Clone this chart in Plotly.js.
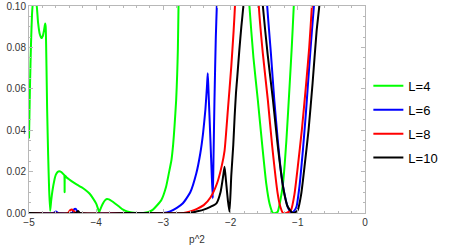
<!DOCTYPE html>
<html>
<head>
<meta charset="utf-8">
<script src="https://cdn.plot.ly/plotly-3.0.1.min.js"></script>
<style>html,body{margin:0;padding:0;background:#fff;}#chart{width:458px;height:247px;}</style>
</head>
<body>
<div id="chart"></div>
<script>
const seriesNames = ["L=4", "L=6", "L=8", "L=10"];
const seriesColors = ["#00ff00", "#0000ff", "#ff0000", "#000000"];

const xL4 = [-5.00,-4.985,-4.97,-4.955,-4.945,-4.915,-4.885,-4.865,-4.84,-4.815,-4.795,-4.775,-4.76,-4.752,-4.74,-4.73,-4.715,-4.70,-4.685,-4.67,-4.65,-4.625,-4.60,-4.575,-4.55,-4.52,-4.49,-4.475,-4.47,-4.464,-4.44,-4.40,-4.35,-4.28,-4.22,-4.16,-4.10,-4.05,-4.00,-3.97,-3.955,-3.93,-3.90,-3.87,-3.84,-3.81,-3.77,-3.72,-3.66,-3.60,-3.54,-3.47,-3.40,-3.30,-3.22,-3.16,-3.10,-3.03,-2.96,-2.92,-2.88,-2.855,-2.835,-2.81,-2.795,-2.785,-2.775,-2.765,-2.2,-1.74,-1.72,-1.66,-1.595,-1.53,-1.47,-1.42,-1.37,-1.33,-1.30,-1.26,-1.22,-1.17,-1.12,-1.09,-1.06,-1.05];
const yL4 = [0.036,0.062,0.082,0.096,0.1005,0.104,0.1,0.092,0.0865,0.0845,0.0855,0.0885,0.0915,0.090,0.071,0.05,0.028,0.011,0.001,0.006,0.011,0.0155,0.0185,0.0198,0.0202,0.0198,0.0188,0.0183,0.0100,0.0181,0.0172,0.0162,0.0150,0.0136,0.0125,0.0111,0.0094,0.0072,0.0045,0.0018,0.0004,0.0025,0.0046,0.0061,0.0068,0.0066,0.0058,0.0046,0.0031,0.0016,0.0007,0.0002,0.0,0.0,0.0005,0.0015,0.0035,0.0063,0.0127,0.019,0.0256,0.033,0.0417,0.0546,0.067,0.0787,0.1,0.115,null,0.115,0.1,0.075,0.0546,0.033,0.0143,0.0045,0.0,0.0,0.0005,0.006,0.0143,0.035,0.0627,0.08,0.1,0.108];

const xL6 = [-5.00,-4.64,-4.60,-4.56,-4.36,-4.33,-4.30,-4.27,-3.6,-3.0,-2.9,-2.8,-2.71,-2.6,-2.51,-2.45,-2.41,-2.375,-2.35,-2.34,-2.33,-2.30,-2.28,-2.265,-2.255,-2.24,-2.22,-2.205,-2.195,-1.8,-1.465,-1.455,-1.40,-1.35,-1.30,-1.25,-1.20,-1.15,-1.10,-1.06,-1.02,-0.975,-0.925,-0.88,-0.83,-0.79,-0.76,-0.75];
const yL6 = [0.0,0.0,0.0007,0.0,0.0,0.0018,0.0019,0.0,0.0,0.0,0.0008,0.0025,0.0047,0.010,0.0192,0.029,0.0385,0.050,0.062,0.0675,0.060,0.035,0.018,0.0071,0.025,0.0546,0.085,0.1,0.112,null,0.112,0.1,0.077,0.0546,0.036,0.02,0.0095,0.003,0.0,0.0008,0.003,0.013,0.030,0.048,0.0707,0.088,0.1,0.106];

const xL8 = [-5.00,-4.42,-4.39,-4.36,-4.33,-4.30,-3.5,-2.7,-2.6,-2.5,-2.4,-2.3,-2.2,-2.13,-2.09,-2.04,-1.99,-1.955,-1.935,-1.925,-1.75,-1.59,-1.58,-1.52,-1.446,-1.38,-1.30,-1.26,-1.22,-1.16,-1.10,-1.05,-1.0,-0.94,-0.875,-0.83,-0.79,-0.78];
const yL8 = [0.0,0.0,0.0013,0.0017,0.0008,0.0,0.0,0.0,0.0008,0.002,0.0038,0.0075,0.0145,0.023,0.030,0.050,0.0707,0.088,0.1,0.11,null,0.11,0.1,0.077,0.0546,0.032,0.0095,0.003,0.0,0.0002,0.0015,0.009,0.0224,0.040,0.0627,0.08,0.1,0.106];

const xL10 = [-5.00,-4.30,-4.27,-4.24,-3.5,-2.6,-2.5,-2.41,-2.3,-2.21,-2.15,-2.11,-2.09,-2.07,-2.04,-2.016,-1.99,-1.96,-1.94,-1.92,-1.90,-1.87,-1.84,-1.81,-1.80,-1.65,-1.53,-1.52,-1.45,-1.37,-1.30,-1.22,-1.15,-1.075,-1.04,-1.0,-0.95,-0.90,-0.84,-0.78,-0.72,-0.68,-0.67];
const yL10 = [0.0,0.0,0.001,0.0,0.0,0.0,0.0008,0.0015,0.003,0.0047,0.010,0.018,0.0224,0.016,0.006,0.0006,0.018,0.033,0.0465,0.058,0.066,0.0787,0.09,0.1,0.106,null,0.107,0.1,0.077,0.0546,0.033,0.0127,0.003,0.0,0.0003,0.0015,0.009,0.0224,0.040,0.0627,0.088,0.1,0.106];

const xTickVals = [-5, -4, -3, -2, -1, 0];
const yTickVals = [0.00, 0.02, 0.04, 0.06, 0.08, 0.10];

const xs = [xL4, xL6, xL8, xL10];
const ys = [yL4, yL6, yL8, yL10];

const traces = seriesNames.map((n, i) => ({
  type: 'scatter', mode: 'lines', name: n,
  x: xs[i], y: ys[i], connectgaps: false,
  legendgroup: n,
  line: {color: seriesColors[i], width: 2, shape: 'spline', smoothing: 0.5}
}));

const axisCommon = {
  showline: true, linecolor: '#b8b8b8', linewidth: 1, mirror: 'ticks',
  ticks: 'inside', ticklen: 4, tickcolor: '#b8b8b8', tickwidth: 1,
  showgrid: false, zeroline: false,
  tickfont: {family: 'Liberation Sans, Arial, sans-serif', size: 10, color: '#333'}
};

const layout = {
  width: 458, height: 247,
  margin: {l: 29, r: 93, t: 6, b: 34},
  paper_bgcolor: '#fff', plot_bgcolor: '#fff',
  showlegend: true,
  legend: {x: 1.01, xanchor: 'left', y: 0.44, yanchor: 'middle',
           font: {family: 'Liberation Sans, Arial, sans-serif', size: 13, color: '#000'},
           tracegroupgap: 4, bgcolor: 'rgba(0,0,0,0)'},
  xaxis: Object.assign({}, axisCommon, {
    range: [-5, 0], tickvals: xTickVals,
    minor: {dtick: 0.2, ticks: 'inside', ticklen: 2, tickcolor: '#b8b8b8', showgrid: false},
    title: {text: 'p^2', font: {family: 'Liberation Sans, Arial, sans-serif', size: 10, color: '#333'}, standoff: 8}
  }),
  yaxis: Object.assign({}, axisCommon, {
    range: [0, 0.1], tickvals: yTickVals, tickformat: '.2f',
    minor: {dtick: 0.005, ticks: 'inside', ticklen: 2, tickcolor: '#b8b8b8', showgrid: false}
  })
};

Plotly.newPlot('chart', traces, layout, {displayModeBar: false, staticPlot: true});
</script>
</body>
</html>
